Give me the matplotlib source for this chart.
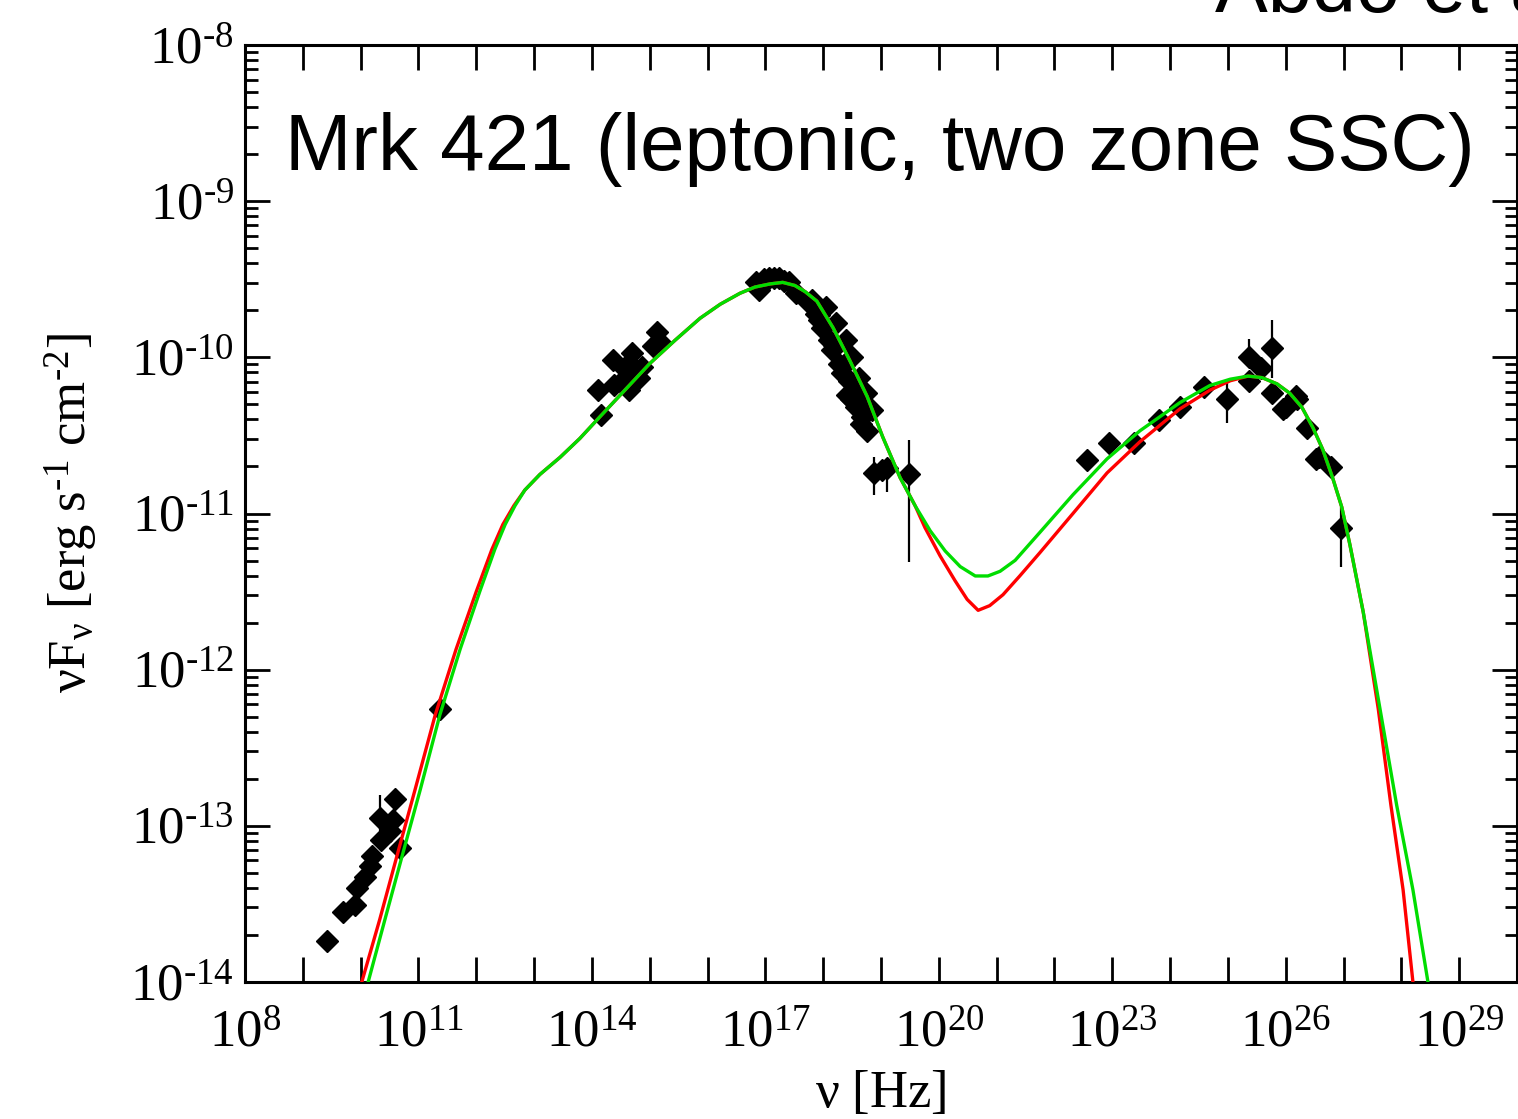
import numpy as np
import matplotlib.pyplot as plt
from matplotlib.ticker import FixedLocator, FuncFormatter, LogLocator, NullLocator

plt.rcParams['font.family'] = 'Liberation Serif'
plt.rcParams['mathtext.fontset'] = 'custom'
plt.rcParams['mathtext.rm'] = 'Liberation Serif'
plt.rcParams['mathtext.it'] = 'Liberation Serif:italic'

# observed SED points, log10(nu [Hz]) and log10(nuFnu [erg/s/cm2])
radio_lognu = [9.42, 9.69, 9.90, 9.93, 10.07, 10.16, 10.19, 10.35, 10.33, 10.56, 10.59, 10.68, 10.50, 11.37]
radio_logf = [-13.74, -13.55, -13.51, -13.40, -13.33, -13.26, -13.19, -13.09, -12.95, -12.96, -12.83, -13.14, -13.03, -12.25]

opt_lognu = [14.15, 14.10, 14.36, 14.56, 14.70, 14.82, 15.12, 15.17, 14.39, 14.62, 14.51, 14.77, 14.87, 15.05, 14.65]
opt_logf = [-10.37, -10.21, -10.02, -10.07, -9.97, -10.13, -9.84, -9.90, -10.18, -10.18, -10.16, -10.08, -10.06, -9.93, -10.21]

xray_lognu = [16.84, 16.89, 16.98, 17.07, 17.15, 17.24, 17.33, 17.41, 17.53, 17.76, 17.81, 17.88, 17.93, 17.93,
              17.98, 18.05, 18.10, 18.16, 18.19, 18.22, 18.28, 18.33, 18.36, 18.40, 18.41, 18.45, 18.48, 18.50,
              18.54, 18.57, 18.62, 18.66, 18.67, 18.71, 18.74, 18.76, 18.85]
xray_logf = [-9.52, -9.57, -9.50, -9.49, -9.49, -9.49, -9.51, -9.52, -9.59, -9.65, -9.63, -9.72, -9.73, -9.76,
             -9.81, -9.68, -9.89, -9.95, -9.92, -9.78, -10.04, -10.10, -10.05, -9.89, -10.24, -10.15, -10.27, -10.00,
             -10.18, -10.32, -10.13, -10.43, -10.38, -10.30, -10.23, -10.47, -10.34]

hx_lognu = [18.88, 19.02, 19.11, 19.49]
hx_logf = [-10.74, -10.72, -10.71, -10.75]

gam_lognu = [22.56, 22.94, 23.37, 23.80, 24.18, 24.58, 24.98, 25.36, 25.36, 25.58, 25.76, 25.76,
             26.00, 26.19, 26.36, 26.57, 26.79, 26.96, 25.96, 26.17, 26.52]
gam_logf = [-10.66, -10.55, -10.55, -10.40, -10.32, -10.19, -10.27, -10.00, -10.15, -10.07, -9.94, -10.23,
            -10.32, -10.27, -10.45, -10.64, -10.70, -11.09, -10.33, -10.25, -10.65]

# error bars (log units)
err_lognu = [10.33, 18.88, 19.11, 19.49, 24.98, 25.36, 25.76, 26.96]
err_lo = [-13.03, -10.88, -10.86, -11.31, -10.42, -10.06, -10.13, -11.34]
err_hi = [-12.80, -10.64, -10.68, -10.53, -10.16, -9.88, -9.76, -10.96]

# model curves
green_lognu = [10.13, 10.42, 10.72, 11.03, 11.37, 11.72, 12.06, 12.32, 12.50, 12.67, 12.84, 13.10, 13.45, 13.79,
               14.14, 14.57, 15.00, 15.44, 15.87, 16.22, 16.56, 16.82, 17.08, 17.30, 17.51, 17.69, 17.89, 18.17,
               18.46, 18.76, 19.03, 19.33, 19.59, 19.85, 20.11, 20.37, 20.63, 20.85, 21.06, 21.32, 21.75, 22.32,
               22.91, 23.48, 24.17, 24.69, 25.04, 25.35, 25.59, 25.85, 26.07, 26.28, 26.47, 26.64, 26.81, 26.97,
               27.11, 27.34, 27.63, 27.92, 28.20, 28.46]
green_logf = [-14.00, -13.60, -13.19, -12.77, -12.29, -11.87, -11.50, -11.23, -11.07, -10.95, -10.85, -10.75,
              -10.64, -10.52, -10.38, -10.21, -10.04, -9.89, -9.75, -9.66, -9.59, -9.55, -9.53, -9.52, -9.54,
              -9.58, -9.64, -9.81, -10.02, -10.25, -10.51, -10.77, -10.95, -11.11, -11.24, -11.34, -11.40,
              -11.40, -11.37, -11.30, -11.12, -10.88, -10.65, -10.47, -10.29, -10.18, -10.14, -10.12, -10.13,
              -10.17, -10.23, -10.32, -10.45, -10.59, -10.77, -10.96, -11.20, -11.63, -12.25, -12.87, -13.41,
              -14.00]

red_lognu = [10.02, 10.33, 10.63, 10.94, 11.29, 11.65, 12.00, 12.27, 12.46, 12.65, 12.84, 13.10, 13.45, 13.79,
             14.14, 14.57, 15.00, 15.44, 15.87, 16.22, 16.56, 16.82, 17.08, 17.30, 17.51, 17.69, 17.89, 18.17,
             18.46, 18.76, 19.03, 19.33, 19.59, 19.76, 20.02, 20.28, 20.49, 20.68, 20.88, 21.11, 21.40, 21.75,
             22.32, 22.91, 23.48, 24.17, 24.69, 25.04, 25.35, 25.59, 25.85, 26.07, 26.28, 26.47, 26.64, 26.81,
             26.97, 27.11, 27.34, 27.60, 27.82, 28.03, 28.20]
red_logf = [-14.00, -13.60, -13.19, -12.77, -12.29, -11.87, -11.50, -11.23, -11.07, -10.95, -10.85, -10.75,
            -10.64, -10.52, -10.38, -10.21, -10.04, -9.89, -9.75, -9.66, -9.59, -9.55, -9.53, -9.52, -9.54,
            -9.58, -9.64, -9.81, -10.02, -10.25, -10.51, -10.77, -10.95, -11.09, -11.27, -11.43, -11.55,
            -11.62, -11.59, -11.52, -11.40, -11.25, -11.00, -10.74, -10.54, -10.33, -10.21, -10.15, -10.12,
            -10.13, -10.17, -10.23, -10.32, -10.45, -10.59, -10.77, -10.96, -11.20, -11.63, -12.25, -12.87,
            -13.41, -14.00]

x_ticklabels = ['10^{8}', '10^{11}', '10^{14}', '10^{17}', '10^{20}', '10^{23}', '10^{26}', '10^{29}']

W, H = 1518, 1119
fig = plt.figure(figsize=(W / 100, H / 100), dpi=100)
ax = fig.add_axes([245 / W, 137 / H, 1272 / W, 937 / H])
ax.set_xscale('log')
ax.set_yscale('log')
ax.set_xlim(1e8, 1e30)
ax.set_ylim(1e-14, 1e-8)

p = lambda a: 10.0 ** np.array(a)

ax.vlines(p(err_lognu), p(err_lo), p(err_hi), color='k', lw=1.6, zorder=2)
for lx, ly in [(radio_lognu, radio_logf), (opt_lognu, opt_logf), (xray_lognu, xray_logf),
               (hx_lognu, hx_logf), (gam_lognu, gam_logf)]:
    ax.plot(p(lx), p(ly), 'D', color='k', ms=11.5, zorder=3)

ax.plot(p(red_lognu), p(red_logf), color='#ff0000', lw=2.4, zorder=4)
ax.plot(p(green_lognu), p(green_logf), color='#00dd00', lw=2.4, zorder=5)


def sci(v, pos):
    e = int(round(np.log10(v)))
    if e < 0:
        return r'$\mathrm{10}^{\text{-%d}}$' % -e
    return r'$\mathrm{10}^{%d}$' % e


# ticks
ax.xaxis.set_major_locator(FixedLocator(p(np.arange(8, 31))))
ax.xaxis.set_minor_locator(NullLocator())
ax.xaxis.set_major_formatter(FuncFormatter(
    lambda v, pos: sci(v, pos) if (round(np.log10(v)) - 8) % 3 == 0 else ''))
ax.yaxis.set_major_locator(FixedLocator(p(np.arange(-14, -7))))
ax.yaxis.set_minor_locator(LogLocator(base=10, subs=np.arange(2, 10)))
ax.yaxis.set_major_formatter(FuncFormatter(sci))
ax.tick_params(which='both', direction='in', top=True, right=True, width=2)
ax.tick_params(which='major', length=18, labelsize=38, pad=8)
ax.tick_params(axis='x', which='major', pad=20)
ax.tick_params(which='minor', length=9)
for s in ax.spines.values():
    s.set_linewidth(2.2)

ax.set_xlabel(r'$\mathrm{ν\ [Hz]}$', fontsize=38)
ax.xaxis.set_label_coords(0.5, -0.094)
ax.xaxis.label.set_va('top')
ax.set_ylabel(r'$\mathrm{νF_{ν}\ [erg\ s^{\text{-1}}\ cm^{\text{-2}}]}$', fontsize=38)
ax.yaxis.set_label_coords(-0.114, 0.5)

fig.text(285 / W, 1 - 170 / H, 'Mrk 421 (leptonic, two zone SSC)', fontsize=57.5,
         family='Liberation Sans', ha='left', va='baseline')
fig.text(1215 / W, 1 - 12 / H, 'Abdo et al.', fontsize=57,
         family='Liberation Sans', ha='left', va='baseline')

fig.savefig('out.png', dpi=100)
